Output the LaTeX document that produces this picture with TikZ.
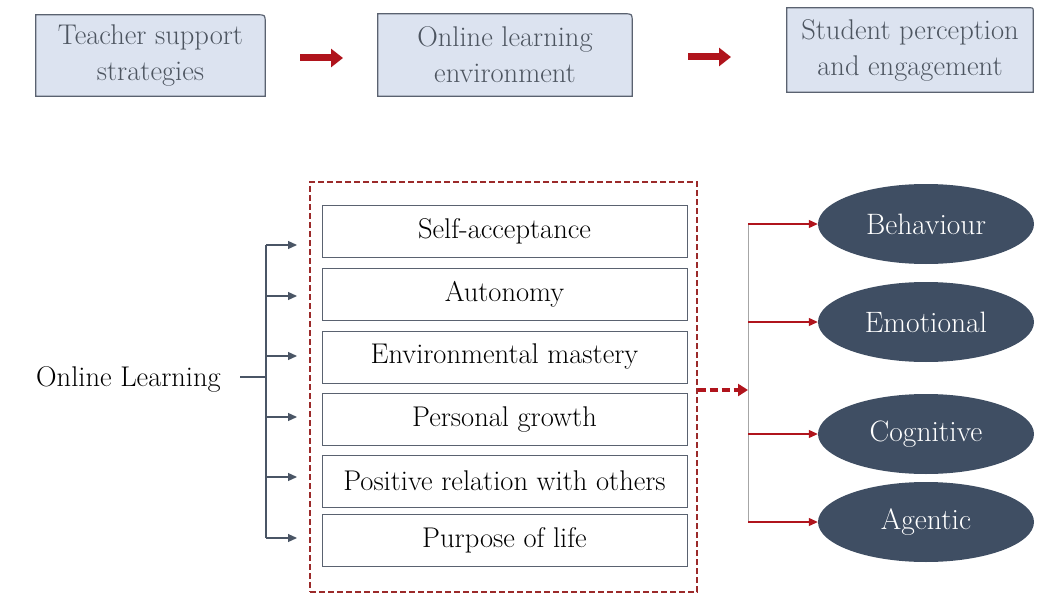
\documentclass[tikz,border=0pt]{standalone}
\usetikzlibrary{arrows.meta,shapes.geometric}
\definecolor{boxblue}{HTML}{DCE3F0}
\definecolor{boxline}{HTML}{5A6270}
\definecolor{boxtext}{HTML}{4D5560}
\definecolor{darkred}{HTML}{B0141C}
\definecolor{framered}{HTML}{9B2A2A}
\definecolor{slate}{HTML}{3F4E63}
\definecolor{branchgray}{HTML}{4A5565}
\begin{document}
\begin{tikzpicture}[x=1pt,y=-1pt,
  every node/.style={font=\fontsize{28.5}{36}\selectfont},
  topbox/.style={fill=boxblue,draw=none,align=center,text=boxtext,inner sep=0pt,font=\fontsize{28.5}{36}\selectfont},
  topline/.style={draw=boxline,line width=1.2pt},
  bigarrow/.style={darkred,line width=7pt,-{Triangle[length=12pt,width=18pt]}},
  itembox/.style={draw=boxline,line width=1pt,minimum width=365pt,minimum height=52pt,inner sep=0pt},
  redframe/.style={draw=framered,line width=1.2pt,dash pattern=on 6pt off 3pt,minimum width=387pt,minimum height=410pt},
  outcome/.style={ellipse,fill=slate,text=white,minimum width=216pt,minimum height=80pt,inner sep=0pt,font=\fontsize{29.5}{36}\selectfont},
  branch/.style={branchgray,line width=1.2pt,-{Triangle[length=9pt,width=8pt]}},
  redbranch/.style={darkred,line width=1.2pt,-{Triangle[length=9pt,width=8pt]}},
  dasharrow/.style={darkred,line width=3.5pt,dash pattern=on 8pt off 4pt,-{Triangle[length=10pt,width=12pt]}}
]
\useasboundingbox (0,0) rectangle (1037,594);

% top row
\node[topbox,minimum width=229pt,minimum height=81pt] (tss) at (150.5,55.5) {Teacher support\\strategies};
\node[topbox,minimum width=254pt,minimum height=82pt] (ole) at (505,55) {Online learning\\environment};
\node[topbox,minimum width=246pt,minimum height=84pt] (spe) at (910,50) {Student perception\\and engagement};

\draw[topline] (tss.south west) -- (tss.north west) -- ([xshift=-8pt]tss.north east) .. controls (tss.north east) .. ([yshift=-8pt]tss.north east) -- (tss.south east) -- cycle;
\draw[topline] (ole.south west) -- (ole.north west) -- ([xshift=-8pt]ole.north east) .. controls (ole.north east) .. ([yshift=-8pt]ole.north east) -- (ole.south east) -- cycle;
\draw[topline] (spe.south west) -- (spe.north west) -- ([xshift=-4pt]spe.north east) .. controls (spe.north east) .. ([yshift=-4pt]spe.north east) -- (spe.south east) -- cycle;

\coordinate (a1s) at (300,58);
\coordinate (a1e) at (343,58);
\coordinate (a2s) at (688,57);
\coordinate (a2e) at (731,57);
\draw[bigarrow] (a1s) -- (a1e);
\draw[bigarrow] (a2s) -- (a2e);

% well-being dimensions
\node[redframe] (frame) at (503.5,387) {};

\node[itembox] (sa) at (504.5,231.5) {Self-acceptance};
\node[itembox] (au) at (504.5,294.5) {Autonomy};
\node[itembox] (em) at (504.5,357) {Environmental mastery};
\node[itembox] (pg) at (504.5,419.5) {Personal growth};
\node[itembox] (pr) at (504.5,481) {Positive relation with others};
\node[itembox] (pl) at (504.5,540.5) {Purpose of life};

% left side
\node[anchor=west,inner sep=0pt] (ol) at (36,379) {Online Learning};
\coordinate (jl) at (266,377);
\draw[branchgray,line width=1.2pt] (240,377) -- (jl);
\coordinate (inA) at (297,245);
\coordinate (inB) at (297,296);
\coordinate (inC) at (297,356);
\coordinate (inD) at (297,417);
\coordinate (inE) at (297,477);
\coordinate (inF) at (297,538);
\draw[branchgray,line width=1.2pt] (jl |- inA) -- (jl |- inF);
\draw[branch] (jl |- inA) -- (inA);
\draw[branch] (jl |- inB) -- (inB);
\draw[branch] (jl |- inC) -- (inC);
\draw[branch] (jl |- inD) -- (inD);
\draw[branch] (jl |- inE) -- (inE);
\draw[branch] (jl |- inF) -- (inF);

% engagement
\node[outcome] (bh) at (926,224) {Behaviour};
\node[outcome] (eo) at (926,322) {Emotional};
\node[outcome] (cg) at (926,434) {Cognitive};
\node[outcome] (ag) at (926,522) {Agentic};

\coordinate (jr) at (748,390);
\draw[dasharrow] (frame.east |- jr) -- (jr);
\draw[gray!70,line width=1pt] (jr |- bh.west) -- (jr |- ag.west);
\draw[redbranch] (jr |- bh.west) -- (bh.west);
\draw[redbranch] (jr |- eo.west) -- (eo.west);
\draw[redbranch] (jr |- cg.west) -- (cg.west);
\draw[redbranch] (jr |- ag.west) -- (ag.west);
\end{tikzpicture}
\end{document}
